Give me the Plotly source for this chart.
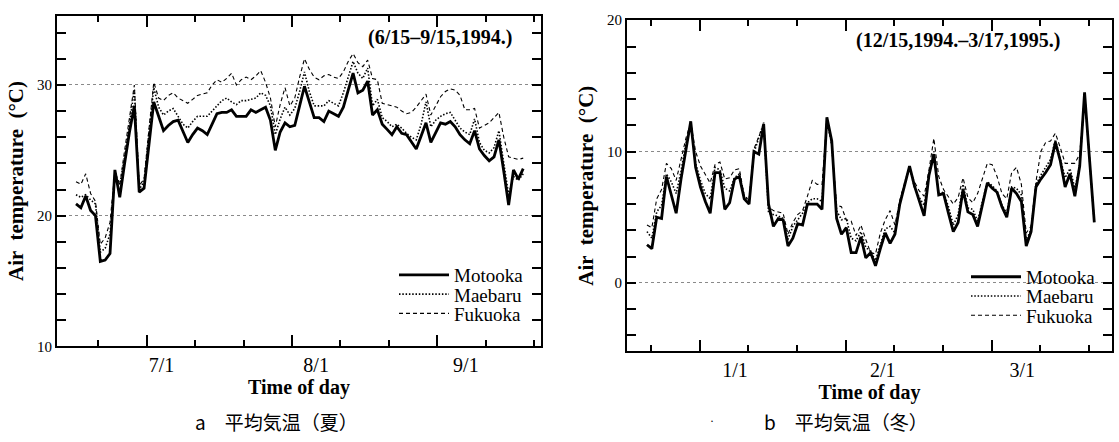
import plotly.graph_objects as go

# ---------------- data (daily mean air temperature, deg C) ----------------
stations = ["Motooka", "Maebaru", "Fukuoka"]

# summer: day 0 = 6/15/1994 ... day 92 = 9/15/1994
summer_day = list(range(93))
summer_motooka = [20.9, 20.6, 21.5, 20.4, 20.0, 16.5, 16.6, 17.1, 23.5, 21.4,
                  24.0, 26.4, 28.4, 21.8, 22.1, 25.6, 28.7, 27.6, 26.5, 26.9,
                  27.2, 27.3, 26.4, 25.6, 26.2, 26.7, 26.5, 26.2, 27.0, 27.8,
                  27.9, 27.9, 28.1, 27.6, 27.6, 27.6, 28.1, 27.9, 28.1, 28.3,
                  27.3, 25.0, 26.4, 27.1, 26.8, 26.9, 28.4, 29.9, 28.7, 27.5,
                  27.5, 27.2, 28.0, 27.8, 27.6, 28.3, 29.6, 30.9, 29.4, 29.6,
                  30.3, 27.7, 28.1, 27.0, 26.6, 26.2, 26.8, 26.3, 26.2, 25.6,
                  25.1, 26.1, 27.1, 25.6, 26.4, 27.1, 27.0, 27.2, 26.8, 26.2,
                  25.8, 25.5, 26.5, 25.1, 24.6, 24.2, 24.5, 25.8, 23.4, 20.8,
                  23.5, 22.8, 23.6]
summer_maebaru = [21.6, 21.4, 21.6, 21.2, 20.9, 17.2, 17.5, 18.6, 23.2, 22.4,
                  24.5, 27.0, 29.6, 22.0, 22.6, 26.3, 29.8, 28.3, 27.7, 28.0,
                  28.2, 27.6, 27.0, 26.7, 27.2, 27.6, 27.6, 27.6, 28.0, 28.4,
                  28.8, 29.0, 28.7, 28.5, 28.8, 28.8, 28.9, 29.0, 29.4, 29.2,
                  28.4, 26.2, 27.4, 28.3, 27.7, 28.2, 29.5, 31.0, 29.5, 28.4,
                  28.4, 28.4, 28.8, 28.6, 28.4, 29.4, 30.6, 31.8, 30.9, 30.5,
                  31.3, 28.4, 28.9, 27.5, 27.2, 26.8, 27.0, 26.7, 26.3, 26.0,
                  25.8, 27.0, 28.7, 26.8, 27.3, 27.6, 27.8, 27.9, 27.3, 26.7,
                  26.4, 26.2, 27.4, 25.6, 25.0, 24.8, 25.2, 26.5, 24.0, 21.6,
                  23.0, 22.7, 23.2]
summer_fukuoka = [22.6, 22.4, 23.2, 21.7, 21.1, 17.8, 18.3, 19.5, 23.4, 22.3,
                  25.0, 27.6, 30.0, 22.3, 22.8, 26.6, 30.2, 29.0, 28.8, 29.2,
                  29.4, 29.0, 28.8, 28.6, 28.9, 29.2, 29.3, 29.4, 30.0, 30.4,
                  30.2, 30.5, 30.9, 30.0, 30.4, 30.6, 30.4, 30.7, 31.1, 30.2,
                  29.0, 26.8, 28.5, 29.8, 28.4, 29.0, 30.6, 32.0, 31.2, 30.6,
                  30.4, 30.7, 30.8, 30.6, 30.5, 31.0, 31.8, 32.4, 31.7, 31.4,
                  31.9, 30.5, 30.4, 28.6, 28.5, 28.4, 28.3, 28.0, 27.8, 27.9,
                  28.3, 28.8, 29.3, 27.7, 28.4, 29.1, 29.5, 29.7, 29.6, 29.2,
                  28.1, 28.1, 28.2, 26.7, 26.9, 27.1, 27.5, 27.9, 26.0, 24.5,
                  24.4, 24.3, 24.4]

# winter: day 0 = 12/15/1994 ... day 92 = 3/17/1995
winter_day = list(range(93))
winter_motooka = [2.9, 2.6, 5.0, 4.9, 8.1, 6.7, 5.3, 7.9, 10.1, 12.3,
                  8.8, 7.3, 6.2, 5.3, 8.4, 8.4, 5.6, 6.1, 7.9, 8.1,
                  6.4, 6.0, 10.0, 9.8, 12.1, 6.0, 4.3, 4.9, 4.8, 2.8,
                  3.4, 4.5, 4.4, 6.0, 6.0, 6.0, 5.6, 12.6, 10.8, 4.9,
                  3.7, 4.2, 2.3, 2.3, 3.5, 1.9, 2.3, 1.3, 2.6, 3.8,
                  3.0, 3.7, 6.0, 7.4, 8.9, 7.4, 6.2, 5.1, 8.2, 9.8,
                  6.7, 6.8, 5.3, 3.9, 4.6, 7.1, 5.4, 5.2, 4.3, 5.9,
                  7.6, 7.2, 6.9, 5.8, 5.0, 7.2, 6.8, 6.2, 2.8, 3.9,
                  7.3, 7.9, 8.4, 9.0, 10.7, 9.3, 7.3, 8.3, 6.6, 8.9,
                  14.5, 9.5, 4.6]
winter_maebaru = [3.9, 3.4, 5.4, 5.9, 8.3, 7.7, 6.8, 8.5, 10.6, 12.2,
                  9.1, 7.8, 6.8, 6.4, 8.8, 8.6, 7.2, 7.0, 8.0, 8.3,
                  6.6, 6.3, 9.9, 11.0, 12.2, 5.3, 5.2, 5.1, 4.9, 3.3,
                  4.3, 4.8, 5.3, 6.1, 6.4, 6.4, 6.2, 12.5, 10.5, 5.5,
                  4.8, 4.9, 3.4, 3.2, 3.9, 2.7, 2.4, 1.7, 2.9, 4.1,
                  4.3, 3.8, 6.1, 7.6, 8.8, 7.3, 6.5, 5.9, 8.2, 10.0,
                  6.8, 6.9, 5.8, 4.4, 5.2, 7.5, 5.7, 5.6, 4.7, 6.3,
                  7.7, 7.4, 7.0, 5.9, 5.3, 7.3, 7.2, 6.7, 3.2, 4.1,
                  7.5, 8.2, 8.8, 9.4, 10.9, 9.5, 8.0, 8.7, 7.2, 8.9,
                  14.4, 9.5, 4.6]
winter_fukuoka = [4.4, 4.2, 6.4, 7.1, 9.1, 8.7, 7.8, 9.3, 11.0, 12.2,
                  10.0, 8.9, 8.2, 7.6, 9.0, 9.2, 7.9, 8.0, 8.6, 8.7,
                  6.6, 6.3, 10.2, 11.2, 12.1, 5.8, 5.5, 5.4, 5.3, 3.7,
                  4.6, 5.2, 5.5, 6.6, 7.8, 7.5, 7.5, 12.4, 10.5, 5.9,
                  5.8, 4.8, 4.7, 3.6, 4.4, 3.3, 2.3, 2.2, 3.8, 4.8,
                  5.5, 4.4, 6.3, 7.6, 8.7, 7.7, 7.0, 6.6, 8.6, 11.0,
                  8.1, 7.1, 6.5, 6.0, 6.5, 8.0, 6.5, 6.1, 6.8, 8.0,
                  9.1, 9.0, 8.1, 6.8, 6.4, 8.4, 8.8, 7.5, 3.8, 4.3,
                  7.7, 10.0, 10.7, 10.8, 11.4, 10.3, 9.1, 9.1, 9.1, 9.8,
                  14.2, 9.6, 4.7]

summer_month_labels = ["7/1", "8/1", "9/1"]
winter_month_labels = ["1/1", "2/1", "3/1"]
summer_period = "(6/15\u20139/15,1994.)"
winter_period = "(12/15,1994.\u20133/17,1995.)"
summer_caption = "a\u3000平均気温（夏）"
winter_caption = "b\u3000平均気温（冬）"

# ---------------- positions / styles ----------------
W, H = 1119, 442
SERIF = "Liberation Serif, Times New Roman, serif"
CJK = "Noto Sans CJK JP, sans-serif"

summer_label_pos = [17.6, 49.4, 80.2]
summer_ticks = [4.59 + 9.963 * k for k in range(10)]
winter_label_pos = [18.1, 48.5, 77.2]
winter_ticks = [0.82 + 10.01 * k for k in range(10)]
major_idx = [1, 4, 7]

styles = [dict(color="black", width=2.8, dash="solid"),
          dict(color="black", width=1.6, dash="1.5px,1.8px"),
          dict(color="black", width=1.1, dash="4px,3px")]


def px(x):
    return x / W


def py(y):
    return 1 - y / H


fig = go.Figure()

panels = [
    ("x", "y", summer_day, [summer_motooka, summer_maebaru, summer_fukuoka], 394, [277, 297, 317], 0),
    ("x2", "y2", winter_day, [winter_motooka, winter_maebaru, winter_fukuoka], 966, [279, 299, 319], 3),
]
for xa, ya, days, series, lx, lys, off in panels:
    for i, (name, vals) in enumerate(zip(stations, series)):
        lg = "legend" if off + i == 0 else f"legend{off + i + 1}"
        fig.add_trace(go.Scatter(x=days, y=vals, name=name, mode="lines", showlegend=True,
                                 line=styles[i], xaxis=xa, yaxis=ya, legend=lg))
        fig.update_layout({lg: dict(x=px(lx), y=py(lys[i]), xanchor="left", yanchor="middle",
                                    bgcolor="rgba(0,0,0,0)", itemwidth=50,
                                    font=dict(family=SERIF, size=19, color="black"))})

# empty traces so the overlay (major tick) axes are drawn
fig.add_trace(go.Scatter(x=[], y=[], xaxis="x3", yaxis="y", showlegend=False, hoverinfo="skip"))
fig.add_trace(go.Scatter(x=[], y=[], xaxis="x4", yaxis="y2", showlegend=False, hoverinfo="skip"))

axis_common = dict(showline=True, linecolor="black", linewidth=2, zeroline=False)


def xmain(dom, rng, labels, label_pos, ticks, anchor):
    return dict(domain=dom, range=rng, anchor=anchor, tickmode="array",
                tickvals=label_pos, ticktext=labels, ticks="", showgrid=False,
                mirror="allticks", tickfont=dict(family=SERIF, size=20, color="black"),
                title=dict(text="<b>Time of day</b>", standoff=1,
                           font=dict(family=SERIF, size=20, color="black")),
                minor=dict(tickmode="array",
                           tickvals=[t for k, t in enumerate(ticks) if k not in major_idx],
                           ticks="inside", ticklen=6, tickwidth=1.5, tickcolor="black",
                           showgrid=False),
                **axis_common)


def xmajor(rng, ticks, over, anchor):
    return dict(overlaying=over, anchor=anchor, range=rng, tickmode="array",
                tickvals=[ticks[k] for k in major_idx], ticks="inside", ticklen=11,
                tickwidth=1.5, tickcolor="black", showticklabels=False, showgrid=False,
                mirror="ticks", **axis_common)


def yax(dom, rng, anchor):
    return dict(domain=dom, range=rng, anchor=anchor, tick0=0, dtick=10,
                ticks="inside", ticklen=9, tickwidth=1.5, tickcolor="black",
                mirror="allticks", showgrid=True, gridcolor="#8a8a8a", gridwidth=1,
                griddash="dot", tickfont=dict(family=SERIF, size=15, color="black"),
                title=dict(text="<b>Air  temperature  (°C)</b>", standoff=8,
                           font=dict(family=SERIF, size=21, color="black")),
                minor=dict(dtick=2, tick0=0, ticks="inside", ticklen=9, tickwidth=1.5,
                           tickcolor="black", showgrid=False),
                **axis_common)


s_rng = [-3.91, 95.66]
w_rng = [-4.11, 95.64]


def note(text, x, y, font):
    return dict(text=text, x=px(x), y=py(y), xref="paper", yref="paper",
                xanchor="center", yanchor="middle", showarrow=False, font=font)


fig.update_layout(
    width=W, height=H, margin=dict(l=0, r=0, t=0, b=0),
    paper_bgcolor="white", plot_bgcolor="white",
    xaxis=xmain([px(57), px(541)], s_rng, summer_month_labels, summer_label_pos, summer_ticks, "y"),
    xaxis3=xmajor(s_rng, summer_ticks, "x", "y"),
    yaxis=yax([py(351), py(8)], [10, 35.3], "x"),
    xaxis2=xmain([px(627), px(1112)], w_rng, winter_month_labels, winter_label_pos, winter_ticks, "y2"),
    xaxis4=xmajor(w_rng, winter_ticks, "x2", "y2"),
    yaxis2=yax([py(356), py(12.7)], [-5.2, 20], "x2"),
    annotations=[
        note(f"<b>{summer_period}</b>", 440, 31, dict(family=SERIF, size=20, color="black")),
        note(f"<b>{winter_period}</b>", 958, 34, dict(family=SERIF, size=20, color="black")),
        note(summer_caption, 276, 429, dict(family=CJK, size=19, color="black")),
        note(winter_caption, 846, 429, dict(family=CJK, size=19, color="black")),
        note("·", 712, 429, dict(family=SERIF, size=12, color="black")),
    ],
)

fig.write_html("out.html")
